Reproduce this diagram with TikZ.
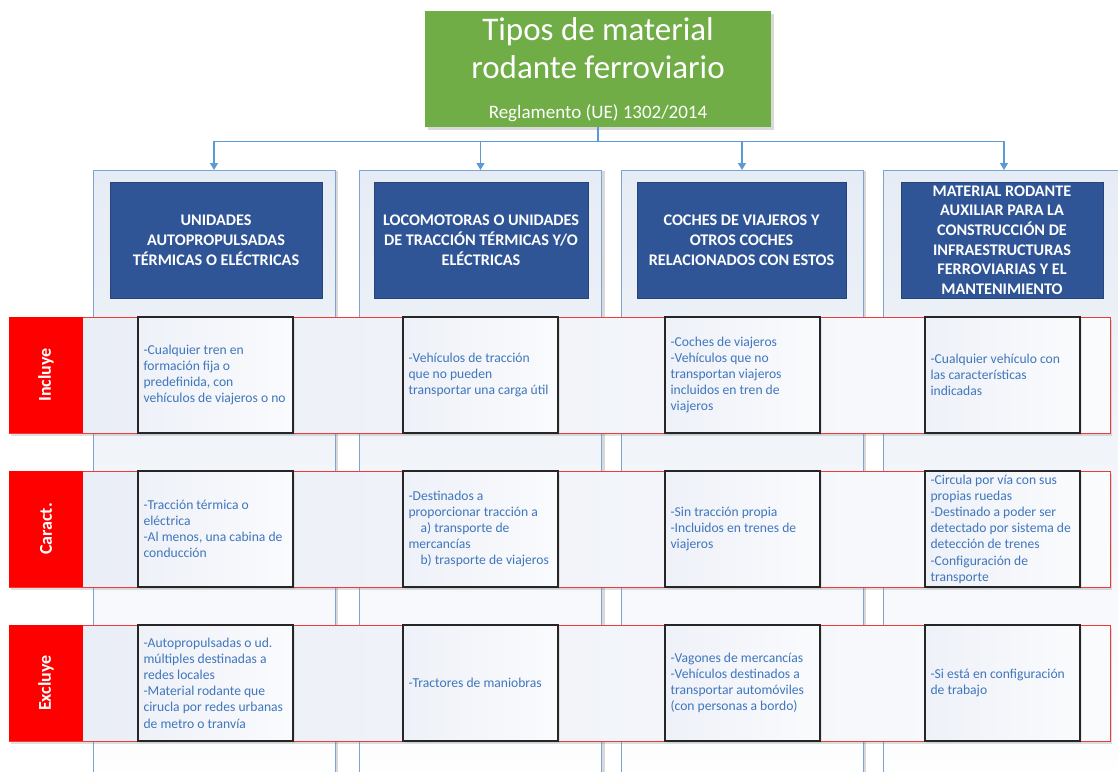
\documentclass[tikz,border=0pt]{standalone}
\usepackage{fontspec}
\setmainfont{Carlito}
\usetikzlibrary{shadows,arrows.meta}
\definecolor{titlegreen}{HTML}{70AD47}
\definecolor{headblue}{HTML}{2F5597}
\definecolor{linkblue}{HTML}{5B9BD5}
\definecolor{panelline}{HTML}{7DA3D2}
\definecolor{paneltop}{HTML}{E6ECF5}
\definecolor{bandleft}{HTML}{E9EDF6}
\definecolor{bandright}{HTML}{FAFBFD}
\definecolor{cellleft}{HTML}{EEF1F8}
\definecolor{cellright}{HTML}{FAFBFD}
\definecolor{celltext}{HTML}{3F76BC}
\definecolor{labelred}{HTML}{FF0000}
\definecolor{bandred}{HTML}{F03A3A}
\begin{document}
\begin{tikzpicture}[x=1pt,y=-1pt,
  titlebox/.style={fill=titlegreen, minimum width=346pt, minimum height=116pt, inner sep=0pt,
    drop shadow={shadow xshift=3pt, shadow yshift=-3pt, opacity=0.3}},
  titletext/.style={text=white, font=\fontsize{33}{38}\selectfont, inner sep=0pt, anchor=base},
  subtext/.style={text=white, font=\fontsize{19}{22}\selectfont, inner sep=0pt, anchor=base},
  panel/.style={draw=panelline, line width=0.9pt, top color=paneltop, bottom color=white,
    minimum width=242pt, minimum height=640pt, anchor=north, inner sep=0pt,
    drop shadow={shadow xshift=3pt, shadow yshift=-1pt, opacity=0.3}},
  headbox/.style={fill=headblue, draw=headblue!80!black, line width=0.4pt, minimum height=116pt,
    inner sep=0pt, text=white, align=center, font=\bfseries\fontsize{16.2}{20}\selectfont},
  link/.style={draw=linkblue, line width=1.3pt, -{Triangle[width=8pt,length=7pt]}},
  trunk/.style={draw=linkblue, line width=1.3pt},
  band/.style={draw=bandred, line width=0.8pt, left color=bandleft, right color=bandright,
    minimum width=1101pt, minimum height=116pt, inner sep=0pt,
    drop shadow={shadow xshift=2pt, shadow yshift=-3pt, opacity=0.25}},
  rowlabel/.style={fill=labelred, minimum width=74pt, minimum height=116pt, inner sep=0pt},
  rowtext/.style={text=white, rotate=90, font=\bfseries\fontsize{18}{20}\selectfont, inner sep=0pt},
  cellbox/.style={draw=black!85, line width=1.3pt, left color=cellleft, right color=cellright,
    minimum width=155pt, minimum height=116pt, inner sep=0pt,
    drop shadow={shadow xshift=1.5pt, shadow yshift=-1.5pt, opacity=0.15}},
  celltxt/.style={text=celltext, align=left, anchor=west, xshift=6pt, inner sep=0pt,
    font=\fontsize{13.6}{16.2}\selectfont}
]
\useasboundingbox (0,0) rectangle (1118,771);
\clip (0,0) rectangle (1118,771);

% column panels
\node[panel] (p1) at (214,170) {};
\node[panel] (p2) at (480.5,170) {};
\node[panel] (p3) at (742,170) {};
\node[panel] (p4) at (1004,170) {};

% title block
\node[titlebox] (title) at (598,69) {};
\node[titletext] (tA) at (598,40) {Tipos de material};
\node[titletext] (tB) at (598,78) {rodante ferroviario};
\node[subtext] (tC) at (598,118) {Reglamento (UE) 1302/2014};

% connectors from the title to the four columns
\coordinate (bus) at (598,141.5);
\draw[trunk] (title.south) -- (bus);
\draw[link] (bus) -| (p1.north);
\draw[link] (bus) -| (p2.north);
\draw[link] (bus) -| (p3.north);
\draw[link] (bus) -| (p4.north);

% column headers
\node[headbox, minimum width=212pt] (h1) at (216,240)
  {UNIDADES\\AUTOPROPULSADAS\\TÉRMICAS O ELÉCTRICAS};
\node[headbox, minimum width=214pt] (h2) at (481,240)
  {LOCOMOTORAS O UNIDADES\\DE TRACCIÓN TÉRMICAS Y/O\\ELÉCTRICAS};
\node[headbox, minimum width=209pt] (h3) at (741.5,240)
  {COCHES DE VIAJEROS Y\\OTROS COCHES\\RELACIONADOS CON ESTOS};
\node[headbox, minimum width=202pt, font=\bfseries\fontsize{16.2}{19.6}\selectfont] (h4) at (1002,240)
  {MATERIAL RODANTE\\AUXILIAR PARA LA\\CONSTRUCCIÓN DE\\INFRAESTRUCTURAS\\FERROVIARIAS Y EL\\MANTENIMIENTO};

% row bands
\node[band] (b1) at (559.5,375) {};
\node[band] (b2) at (559.5,529) {};
\node[band] (b3) at (559.5,683) {};
\node[rowlabel] (l1) at (46,375) {};
\node[rowlabel] (l2) at (46,529) {};
\node[rowlabel] (l3) at (46,683) {};
\node[rowtext] (r1) at (l1.center) {Incluye};
\node[rowtext] (r2) at (l2.center) {Caract.};
\node[rowtext] (r3) at (l3.center) {Excluye};

% cells, row 1
\node[cellbox] (c11) at (215.5,375) {};
\node[cellbox] (c12) at (480.5,375) {};
\node[cellbox] (c13) at (742.5,375) {};
\node[cellbox] (c14) at (1002.5,375) {};
% cells, row 2
\node[cellbox] (c21) at (215.5,529) {};
\node[cellbox] (c22) at (480.5,529) {};
\node[cellbox] (c23) at (742.5,529) {};
\node[cellbox] (c24) at (1002.5,529) {};
% cells, row 3
\node[cellbox] (c31) at (215.5,683) {};
\node[cellbox] (c32) at (480.5,683) {};
\node[cellbox] (c33) at (742.5,683) {};
\node[cellbox] (c34) at (1002.5,683) {};

% cell texts
\node[celltxt] (x11) at (c11.west) {-Cualquier tren en\\formación fija o\\predefinida, con\\vehículos de viajeros o no};
\node[celltxt] (x12) at (c12.west) {-Vehículos de tracción\\que no pueden\\transportar una carga útil};
\node[celltxt] (x13) at (c13.west) {-Coches de viajeros\\-Vehículos que no\\transportan viajeros\\incluidos en tren de\\viajeros};
\node[celltxt] (x14) at (c14.west) {-Cualquier vehículo con\\las características\\indicadas};

\node[celltxt] (x21) at (c21.west) {-Tracción térmica o\\eléctrica\\-Al menos, una cabina de\\conducción};
\node[celltxt] (x22) at (c22.west) {-Destinados a\\proporcionar tracción a\\\hspace*{12pt}a) transporte de\\mercancías\\\hspace*{12pt}b) trasporte de viajeros};
\node[celltxt] (x23) at (c23.west) {-Sin tracción propia\\-Incluidos en trenes de\\viajeros};
\node[celltxt] (x24) at (c24.west) {-Circula por vía con sus\\propias ruedas\\-Destinado a poder ser\\detectado por sistema de\\detección de trenes\\-Configuración de\\transporte};

\node[celltxt] (x31) at (c31.west) {-Autopropulsadas o ud.\\múltiples destinadas a\\redes locales\\-Material rodante que\\cirucla por redes urbanas\\de metro o tranvía};
\node[celltxt] (x32) at (c32.west) {-Tractores de maniobras};
\node[celltxt] (x33) at (c33.west) {-Vagones de mercancías\\-Vehículos destinados a\\transportar automóviles\\(con personas a bordo)};
\node[celltxt] (x34) at (c34.west) {-Si está en configuración\\de trabajo};
\end{tikzpicture}
\end{document}
